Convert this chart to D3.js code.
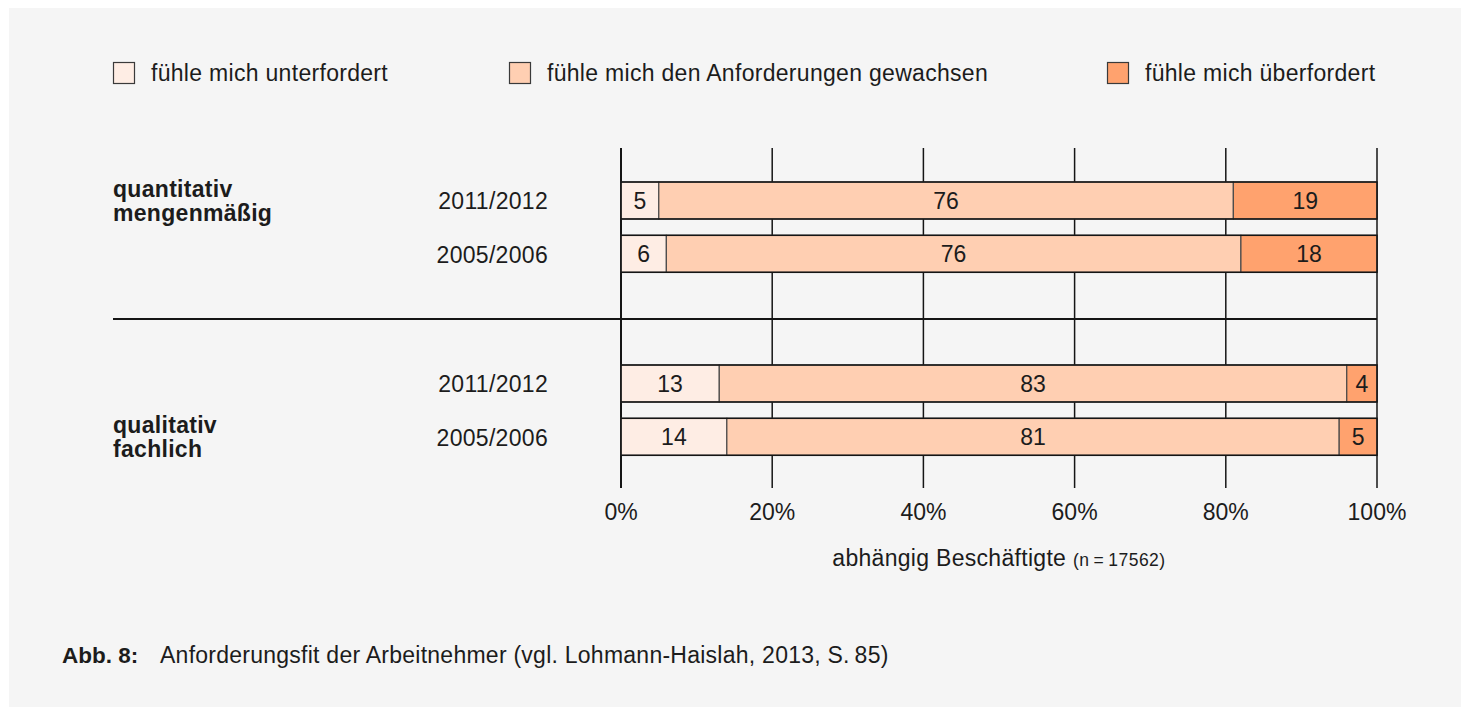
<!DOCTYPE html>
<html><head><meta charset="utf-8">
<script src="https://cdn.jsdelivr.net/npm/d3@7"></script>
<style>
html,body{margin:0;padding:0;background:#fff;}
text{font-family:"Liberation Sans",Arial,sans-serif;fill:#1c1c1c;}
</style></head>
<body>
<svg id="chart" width="1466" height="707"></svg>
<script>
// ---- data ----
const groups = ["quantitativ", "qualitativ"];
const groupLabels = [["quantitativ", "mengenmäßig"], ["qualitativ", "fachlich"]];
const years = ["2011/2012", "2005/2006"];
const seriesNames = ["fühle mich unterfordert", "fühle mich den Anforderungen gewachsen", "fühle mich überfordert"];
const unterfordert = [5, 6, 13, 14];
const gewachsen    = [76, 76, 83, 81];
const ueberfordert = [19, 18, 4, 5];
const tickValues = [0, 20, 40, 60, 80, 100];
const axisTitle = "abhängig Beschäftigte";
const axisNote = "(n\u2009=\u200917562)";
const captionBold = "Abb. 8:";
const captionText = "Anforderungsfit der Arbeitnehmer (vgl. Lohmann-Haislah, 2013, S.\u200985)";

const colors = ["#feede4", "#ffcfb2", "#ffa26e"];

const rows = [];
groups.forEach((g, gi) => years.forEach((y, yi) => {
  const i = gi * 2 + yi;
  rows.push({group: g, year: y, values: [unterfordert[i], gewachsen[i], ueberfordert[i]]});
}));

const FS = "23px", LS = "0.3px";
const svg = d3.select("#chart");
svg.append("rect").attr("x", 9).attr("y", 8).attr("width", 1452).attr("height", 699).attr("fill", "#f5f5f5");

const x = d3.scaleLinear().domain([0, 100]).range([621, 1377]);
const yGroup = d3.scaleBand().domain(groups).range([182, 548]).padding(0);
const yYear = d3.scaleBand().domain(years).range([0, 90.3]).paddingInner(0.306).paddingOuter(0);
const rowTop = r => yGroup(r.group) + yYear(r.year);
const bh = yYear.bandwidth();

// gridlines
svg.append("g").selectAll("line").data(tickValues).join("line")
  .attr("x1", d => x(d)).attr("x2", d => x(d))
  .attr("y1", 148).attr("y2", 488)
  .attr("stroke", "#151515").attr("stroke-width", d => d === 0 ? 2 : 1.5);

// separator
svg.append("line").attr("x1", 113).attr("x2", x(100)).attr("y1", 319).attr("y2", 319)
  .attr("stroke", "#151515").attr("stroke-width", 2);

// bars
const rowG = svg.append("g").selectAll("g").data(rows).join("g");
rowG.each(function(r) {
  const g = d3.select(this);
  let acc = 0;
  const segs = r.values.map((v, k) => { const s = {v, k, x0: acc, x1: acc + v}; acc += v; return s; });
  g.selectAll("rect.seg").data(segs).join("rect").attr("class", "seg")
    .attr("x", d => x(d.x0)).attr("width", d => x(d.x1) - x(d.x0))
    .attr("y", rowTop(r)).attr("height", bh)
    .attr("fill", d => colors[d.k]).attr("stroke", "#4a4a4a").attr("stroke-width", 1.2);
  g.append("rect").attr("x", x(0)).attr("width", x(100) - x(0))
    .attr("y", rowTop(r)).attr("height", bh)
    .attr("fill", "none").attr("stroke", "#151515").attr("stroke-width", 1.5);
  g.selectAll("text.val").data(segs).join("text").attr("class", "val")
    .attr("x", d => (x(d.x0) + x(d.x1)) / 2).attr("y", rowTop(r) + bh / 2)
    .attr("dy", "0.36em").attr("text-anchor", "middle")
    .style("font-size", FS).text(d => d.v);
  g.append("text").attr("x", 548).attr("y", rowTop(r) + bh / 2).attr("dy", "0.38em")
    .attr("text-anchor", "end").style("font-size", FS).style("letter-spacing", LS).text(r.year);
});

// group labels
groupLabels.forEach((lines, gi) => {
  const anchorYear = gi === 0 ? years[0] : years[1];
  const cy = yGroup(groups[gi]) + yYear(anchorYear) + bh / 2;
  const t = svg.append("text").attr("x", 113).attr("y", cy - 3.5)
    .style("font-size", FS).style("font-weight", "bold").style("letter-spacing", LS);
  lines.forEach((l, li) => t.append("tspan").attr("x", 113).attr("dy", li === 0 ? 0 : 24).text(l));
});

// tick labels
svg.append("g").selectAll("text").data(tickValues).join("text")
  .attr("x", d => x(d)).attr("y", 520).attr("text-anchor", "middle")
  .style("font-size", FS).text(d => d + "%");

// axis title
const at = svg.append("text").attr("x", (x(0) + x(100)) / 2).attr("y", 566).attr("text-anchor", "middle");
at.append("tspan").style("font-size", FS).style("letter-spacing", LS).text(axisTitle + " ");
at.append("tspan").style("font-size", "17.5px").style("letter-spacing", "0.5px").text(axisNote);

// legend
const legendX = [113, 509, 1107];
const lg = svg.append("g").selectAll("g").data(seriesNames).join("g")
  .attr("transform", (d, i) => `translate(${legendX[i]},0)`);
lg.append("rect").attr("x", 0.5).attr("y", 62.5).attr("width", 21).attr("height", 21)
  .attr("fill", (d, i) => colors[i]).attr("stroke", "#3a3a3a").attr("stroke-width", 1.2);
lg.append("text").attr("x", 38).attr("y", 81).style("font-size", FS).style("letter-spacing", LS).text(d => d);

// caption
svg.append("text").attr("x", 62).attr("y", 663).style("font-size", "22.5px").style("font-weight", "bold").text(captionBold);
svg.append("text").attr("x", 160).attr("y", 663).style("font-size", FS).style("letter-spacing", "0.25px").text(captionText);
</script>
</body></html>
